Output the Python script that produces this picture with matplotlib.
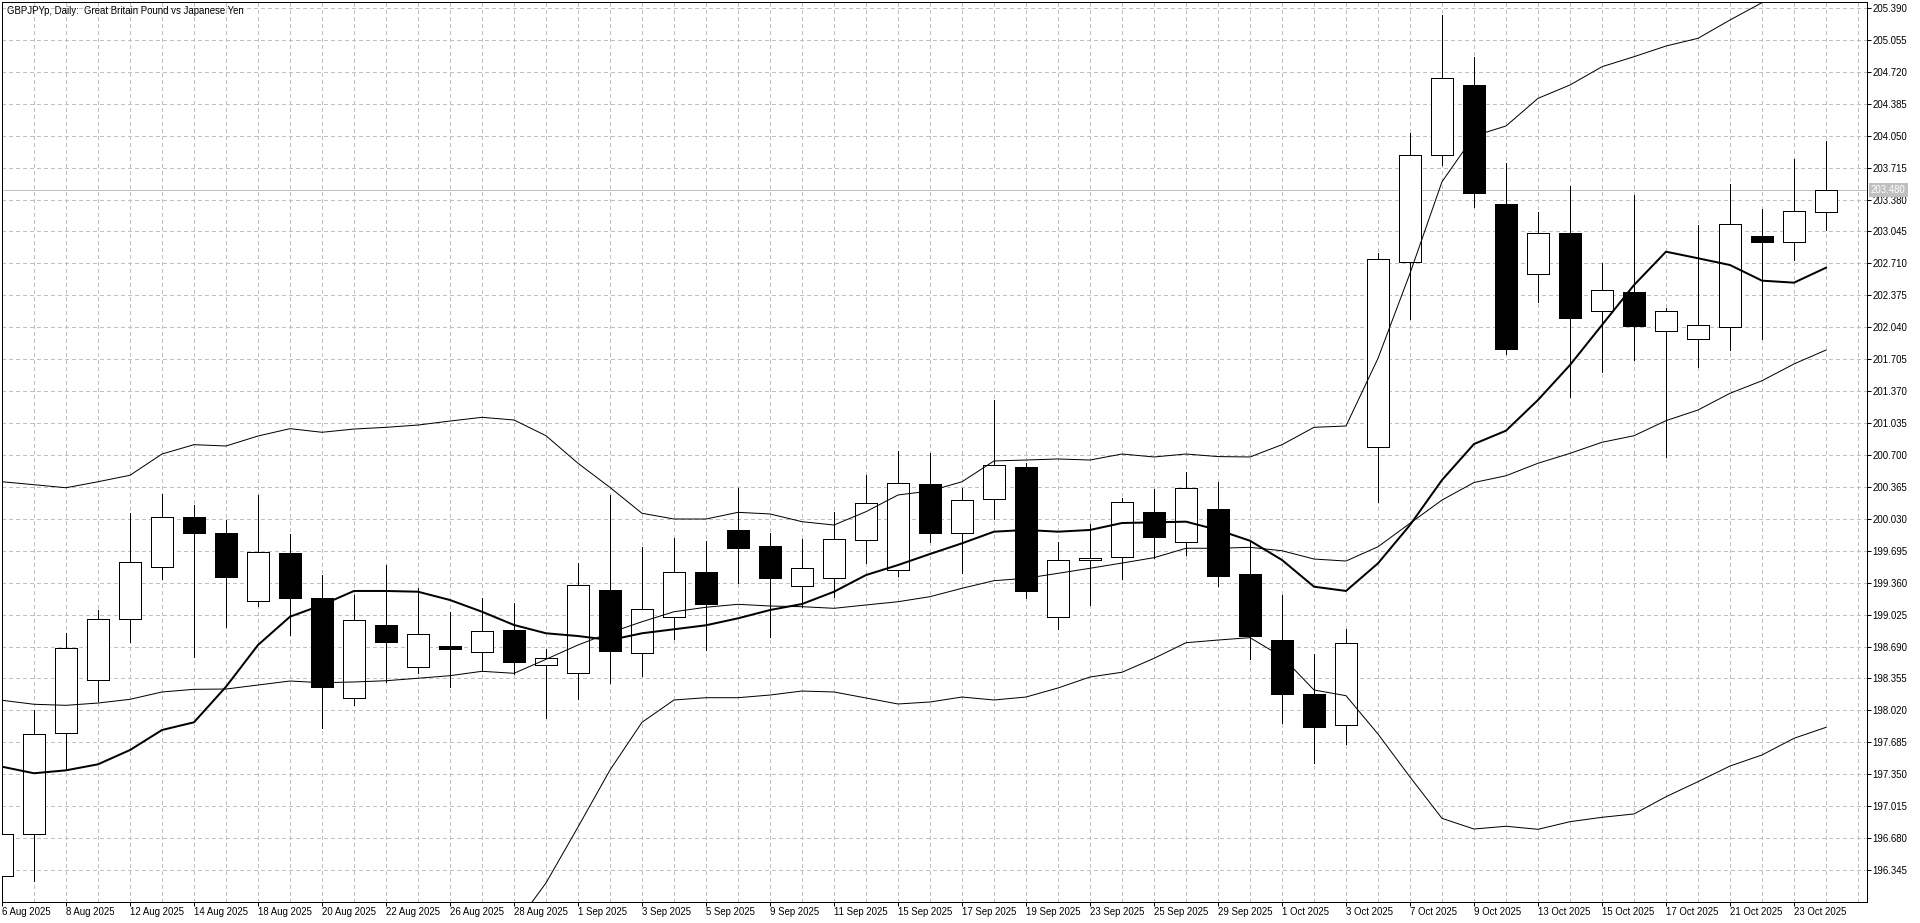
import matplotlib
matplotlib.use("Agg")
import matplotlib.pyplot as plt
import matplotlib.transforms as mtransforms
import numpy as np

plt.rcParams['font.family'] = ['Liberation Sans', 'DejaVu Sans']
plt.rcParams['lines.scale_dashes'] = False

title = "GBPJPYp, Daily:  Great Britain Pound vs Japanese Yen"

date_labels = ["6 Aug 2025", "8 Aug 2025", "12 Aug 2025", "14 Aug 2025", "18 Aug 2025",
               "20 Aug 2025", "22 Aug 2025", "26 Aug 2025", "28 Aug 2025", "1 Sep 2025",
               "3 Sep 2025", "5 Sep 2025", "9 Sep 2025", "11 Sep 2025", "15 Sep 2025",
               "17 Sep 2025", "19 Sep 2025", "23 Sep 2025", "25 Sep 2025", "29 Sep 2025",
               "1 Oct 2025", "3 Oct 2025", "7 Oct 2025", "9 Oct 2025", "13 Oct 2025",
               "15 Oct 2025", "17 Oct 2025", "21 Oct 2025", "23 Oct 2025"]

price_ticks = [196.345, 196.680, 197.015, 197.350, 197.685, 198.020, 198.355, 198.690,
               199.025, 199.360, 199.695, 200.030, 200.365, 200.700, 201.035, 201.370,
               201.705, 202.040, 202.375, 202.710, 203.045, 203.380, 203.715, 204.050,
               204.385, 204.720, 205.055, 205.390]

opens = [196.283, 196.724, 197.783, 198.339, 198.979, 199.525, 200.050, 199.882, 199.168, 199.672,
         199.200, 198.150, 198.917, 198.476, 198.696, 198.636, 198.864, 198.494, 198.410, 199.284,
         198.619, 198.997, 199.469, 199.910, 199.745, 199.329, 199.406, 199.805, 199.490, 200.393,
         199.879, 200.235, 200.574, 199.000, 199.595, 199.627, 200.099, 199.784, 200.130, 199.448,
         198.756, 198.189, 197.864, 200.784, 202.722, 203.845, 204.582, 203.334, 202.596, 203.026,
         202.208, 202.407, 201.998, 201.914, 202.040, 202.995, 202.938, 203.246]
highs = [196.760, 198.025, 198.832, 199.070, 200.092, 200.291, 200.175, 200.018, 200.280, 199.871,
         199.441, 199.231, 199.546, 199.305, 199.051, 199.203, 199.150, 198.665, 199.564, 200.280,
         199.735, 199.829, 199.798, 200.351, 199.882, 199.819, 200.102, 200.490, 200.739, 200.721,
         200.354, 201.277, 200.613, 199.787, 199.976, 200.246, 200.343, 200.522, 200.414, 199.790,
         199.231, 198.612, 198.871, 202.816, 204.075, 205.317, 204.879, 203.761, 203.250, 203.522,
         202.711, 203.428, 202.239, 203.113, 203.547, 203.281, 203.806, 203.995]
lows = [196.250, 196.231, 197.395, 198.119, 198.738, 199.399, 198.581, 198.896, 199.116, 198.812,
        197.836, 198.077, 198.319, 198.413, 198.266, 198.431, 198.402, 197.938, 198.137, 198.305,
        198.385, 198.770, 198.654, 199.360, 198.794, 199.108, 199.213, 199.570, 199.434, 199.784,
        199.465, 200.029, 199.197, 198.878, 199.126, 199.402, 199.619, 199.651, 199.329, 198.563,
        197.891, 197.472, 197.671, 200.210, 202.124, 203.743, 203.305, 201.760, 202.309, 201.312,
        201.574, 201.700, 200.682, 201.627, 201.802, 201.920, 202.746, 203.061]
closes = [196.724, 197.773, 198.675, 198.979, 199.577, 200.050, 199.882, 199.420, 199.682, 199.200,
          198.266, 198.969, 198.738, 198.822, 198.665, 198.850, 198.531, 198.567, 199.333, 198.647,
          199.081, 199.469, 199.140, 199.728, 199.413, 199.511, 199.816, 200.193, 200.403, 199.879,
          200.225, 200.592, 199.276, 199.595, 199.616, 200.210, 199.843, 200.351, 199.434, 198.804,
          198.196, 197.849, 198.724, 202.753, 203.845, 204.652, 203.446, 201.815, 203.026, 202.134,
          202.428, 202.057, 202.208, 202.061, 203.121, 202.938, 203.257, 203.480]

ma_line = [197.429, 197.360, 197.391, 197.454, 197.604, 197.814, 197.895, 198.268, 198.706, 199.003,
           199.126, 199.273, 199.273, 199.265, 199.178, 199.055, 198.916, 198.829, 198.800, 198.758,
           198.829, 198.871, 198.913, 198.986, 199.073, 199.136, 199.265, 199.440, 199.545, 199.661,
           199.773, 199.895, 199.913, 199.895, 199.913, 199.986, 199.993, 200.000, 199.913, 199.800,
           199.598, 199.318, 199.273, 199.563, 199.965, 200.437, 200.815, 200.955, 201.277, 201.644,
           202.064, 202.483, 202.833, 202.764, 202.693, 202.529, 202.508, 202.665]

bb_mid = [198.126, 198.084, 198.073, 198.097, 198.136, 198.213, 198.241, 198.244, 198.286, 198.328,
          198.310, 198.318, 198.331, 198.357, 198.384, 198.430, 198.409, 198.556, 198.706, 198.835,
          198.950, 199.055, 199.102, 199.133, 199.115, 199.108, 199.091, 199.126, 199.160, 199.213,
          199.301, 199.381, 199.406, 199.458, 199.511, 199.566, 199.622, 199.721, 199.721, 199.731,
          199.695, 199.608, 199.587, 199.737, 199.983, 200.227, 200.411, 200.482, 200.613, 200.717,
          200.833, 200.902, 201.060, 201.172, 201.347, 201.479, 201.655, 201.801]

bb_upper = [200.419, 200.388, 200.356, 200.419, 200.487, 200.710, 200.808, 200.794, 200.899, 200.976,
            200.938, 200.972, 200.990, 201.014, 201.056, 201.095, 201.067, 200.902, 200.613, 200.359,
            200.088, 200.028, 200.028, 200.098, 200.081, 200.000, 199.965, 200.105, 200.280, 200.322,
            200.419, 200.637, 200.647, 200.658, 200.647, 200.710, 200.679, 200.710, 200.683, 200.679,
            200.808, 200.990, 201.004, 201.714, 202.606, 203.567, 204.047, 204.152, 204.442, 204.582,
            204.774, 204.879, 204.991, 205.072, 205.264, 205.446, 205.620, 205.770]

bb_lower = [195.832, 195.779, 195.790, 195.775, 195.786, 195.715, 195.675, 195.695, 195.673, 195.680,
            195.682, 195.663, 195.672, 195.699, 195.711, 195.765, 195.751, 196.209, 196.796, 197.394,
            197.895, 198.129, 198.153, 198.153, 198.181, 198.223, 198.213, 198.150, 198.087, 198.108,
            198.160, 198.129, 198.160, 198.255, 198.370, 198.420, 198.566, 198.730, 198.758, 198.783,
            198.583, 198.234, 198.174, 197.772, 197.321, 196.887, 196.775, 196.804, 196.772, 196.852,
            196.898, 196.933, 197.114, 197.272, 197.436, 197.552, 197.727, 197.842]

last_price = 203.480

# ---------------- layout ----------------
W, H = 1920, 923
PX = 0.72            # one pixel in points at dpi 100
L, R, T, B = 2, 1867, 2, 902
BAR_PX = 32.0
PRICE_PER_PX = 0.010493
FS = 6.9

fig = plt.figure(figsize=(W / 100, H / 100), dpi=100, facecolor='white')
ax = fig.add_axes([L / W, (H - B) / H, (R - L) / W, (B - T) / H])
ax.set_facecolor('white')

n = len(opens)
x = np.arange(n)
ax.set_xlim(0, (R - L) / BAR_PX)
ax.set_ylim(205.390 - (B - 8) * PRICE_PER_PX, 205.390 + (8 - T) * PRICE_PER_PX)

# grid
dash = (0, (2.16, 2.16))
grid_color = '#c0c0c0'
for gx in range(1, int((R - L) / BAR_PX) + 1):
    ax.axvline(gx, color=grid_color, lw=PX, ls=dash, zorder=0, antialiased=False)
for gy in price_ticks:
    ax.axhline(gy, color=grid_color, lw=PX, ls=dash, zorder=0, antialiased=False)

# current price line
ax.axhline(last_price, color='#c0c0c0', lw=PX, zorder=1, antialiased=False)

# candles
o = np.array(opens); c = np.array(closes)
hi = np.array(highs); lo = np.array(lows)
ax.vlines(x, lo, hi, color='black', lw=PX, zorder=2, antialiased=False)
bottoms = np.minimum(o, c)
heights = np.maximum(np.abs(c - o), 0.02)
colors = ['white' if cc >= oo else 'black' for oo, cc in zip(opens, closes)]
ax.bar(x, heights, bottom=bottoms, width=0.66, color=colors, edgecolor='black',
       linewidth=PX, zorder=3, antialiased=False)

# indicators
ax.plot(x, bb_upper, color='black', lw=PX, zorder=4)
ax.plot(x, bb_mid, color='black', lw=PX, zorder=4)
ax.plot(x, bb_lower, color='black', lw=PX, zorder=4)
ax.plot(x, ma_line, color='black', lw=2 * PX, zorder=5)

# spines
for s in ax.spines.values():
    s.set_color('black')
    s.set_linewidth(PX)

# ticks
ax.set_xticks(x[::2])
ax.set_xticklabels(date_labels, ha='left')
ax.set_yticks(price_ticks)
ax.set_yticklabels([f"{p:.3f}" for p in price_ticks])
ax.yaxis.tick_right()
ax.tick_params(axis='y', which='both', left=False, right=True, labelleft=False,
               labelright=True, length=4 * PX, width=PX, pad=1.0, labelsize=FS,
               colors='black')
ax.tick_params(axis='x', which='both', bottom=True, top=False, length=4 * PX,
               width=PX, pad=0.5, labelsize=FS, colors='black')

# title
ax.text(5 / (R - L), 1 - 8.5 / (B - T), title, transform=ax.transAxes,
        fontsize=FS, va='center', ha='left', color='black', zorder=6)

# last price label
trans = mtransforms.blended_transform_factory(ax.transAxes, ax.transData)
ax.text(1 + 4 / (R - L), last_price, f"{last_price:.3f}", transform=trans,
        fontsize=FS, va='center', ha='left', color='white', clip_on=False, zorder=7,
        bbox=dict(boxstyle='square,pad=0.2', fc='#c0c0c0', ec='none'))

fig.savefig('out.png', dpi=100, facecolor='white')
